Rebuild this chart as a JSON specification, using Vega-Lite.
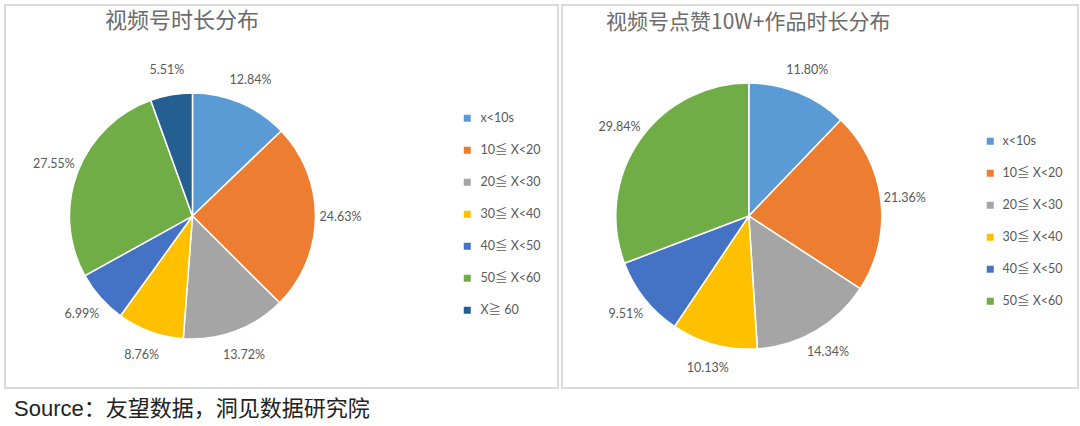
{
  "$schema": "https://vega.github.io/schema/vega-lite/v6.json",
  "background": "white",
  "padding": {"left": 4, "top": 4, "right": 2, "bottom": 0},
  "title": {"text": "Source：友望数据，洞见数据研究院", "orient": "bottom", "anchor": "start", "frame": "group", "offset": 10, "dx": 9, "fontSize": 22, "font": "Liberation Sans, Noto Sans CJK SC", "fontWeight": "normal", "color": "#222222"},
  "datasets": {
    "d1": [
      {"cat": "x<10s", "value": 0.1284, "idx": 1},
      {"cat": "10≦ X<20", "value": 0.2463, "idx": 2},
      {"cat": "20≦ X<30", "value": 0.1372, "idx": 3},
      {"cat": "30≦ X<40", "value": 0.0876, "idx": 4},
      {"cat": "40≦ X<50", "value": 0.0699, "idx": 5},
      {"cat": "50≦ X<60", "value": 0.2755, "idx": 6},
      {"cat": "X≧ 60", "value": 0.0551, "idx": 7}
    ],
    "d2": [
      {"cat": "x<10s", "value": 0.1180, "idx": 1},
      {"cat": "10≦ X<20", "value": 0.2136, "idx": 2},
      {"cat": "20≦ X<30", "value": 0.1434, "idx": 3},
      {"cat": "30≦ X<40", "value": 0.1013, "idx": 4},
      {"cat": "40≦ X<50", "value": 0.0951, "idx": 5},
      {"cat": "50≦ X<60", "value": 0.2984, "idx": 6}
    ]
  },
  "spacing": 2,
  "hconcat": [
    {
      "width": 553,
      "height": 383,
      "title": {"text": "视频号时长分布", "anchor": "start", "frame": "group", "dx": 100, "offset": -28, "fontSize": 22, "font": "Noto Sans CJK SC", "fontWeight": "normal", "color": "#6b6b6b"},
      "data": {"name": "d1"},
      "encoding": {
        "theta": {"field": "value", "type": "quantitative", "stack": true},
        "order": {"field": "idx", "type": "quantitative"},
        "x": {"datum": 0.339, "type": "quantitative", "scale": {"domain": [0, 1], "nice": false, "zero": false}, "axis": null},
        "y": {"datum": 0.551, "type": "quantitative", "scale": {"domain": [0, 1], "reverse": true, "nice": false, "zero": false}, "axis": null}
      },
      "layer": [
        {
          "mark": {"type": "arc", "outerRadius": 123, "stroke": "white", "strokeWidth": 1.5},
          "encoding": {
            "color": {"field": "cat", "type": "nominal", "sort": null,
              "scale": {"domain": ["x<10s", "10≦ X<20", "20≦ X<30", "30≦ X<40", "40≦ X<50", "50≦ X<60", "X≧ 60"],
                        "range": ["#5B9BD5", "#ED7D31", "#A5A5A5", "#FFC000", "#4472C4", "#70AD47", "#255E91"]},
              "legend": {"title": null, "orient": "none", "legendX": 456, "legendY": 107, "rowPadding": 19, "labelOffset": 7}}
          }
        },
        {
          "mark": {"type": "text", "radius": 148, "fontSize": 12.5, "font": "Lato", "color": "#595959"},
          "encoding": {"text": {"field": "value", "type": "quantitative", "format": ".2%"}}
        }
      ]
    },
    {
      "width": 516,
      "height": 383,
      "title": {"text": "视频号点赞10W+作品时长分布", "anchor": "start", "frame": "group", "dx": 44, "offset": -28, "fontSize": 21, "font": "Noto Sans CJK SC", "fontWeight": "normal", "color": "#6b6b6b"},
      "data": {"name": "d2"},
      "encoding": {
        "theta": {"field": "value", "type": "quantitative", "stack": true},
        "order": {"field": "idx", "type": "quantitative"},
        "x": {"datum": 0.362, "type": "quantitative", "scale": {"domain": [0, 1], "nice": false, "zero": false}, "axis": null},
        "y": {"datum": 0.551, "type": "quantitative", "scale": {"domain": [0, 1], "reverse": true, "nice": false, "zero": false}, "axis": null}
      },
      "layer": [
        {
          "mark": {"type": "arc", "outerRadius": 133, "stroke": "white", "strokeWidth": 1.5},
          "encoding": {
            "color": {"field": "cat", "type": "nominal", "sort": null,
              "scale": {"domain": ["x<10s", "10≦ X<20", "20≦ X<30", "30≦ X<40", "40≦ X<50", "50≦ X<60"],
                        "range": ["#5B9BD5", "#ED7D31", "#A5A5A5", "#FFC000", "#4472C4", "#70AD47"]},
              "legend": {"title": null, "orient": "none", "legendX": 422, "legendY": 130, "rowPadding": 19, "labelOffset": 6}}
          }
        },
        {
          "mark": {"type": "text", "radius": 157, "fontSize": 12.5, "font": "Lato", "color": "#595959"},
          "encoding": {"text": {"field": "value", "type": "quantitative", "format": ".2%"}}
        }
      ]
    }
  ],
  "resolve": {"scale": {"color": "independent", "x": "independent", "y": "independent", "theta": "independent"}},
  "config": {
    "view": {"stroke": "#dadada", "strokeWidth": 2},
    "legend": {"symbolType": "square", "symbolSize": 49, "symbolStrokeWidth": 0, "labelFontSize": 12.5, "labelColor": "#595959", "labelFont": "Lato, Noto Sans CJK SC", "padding": 0}
  }
}
